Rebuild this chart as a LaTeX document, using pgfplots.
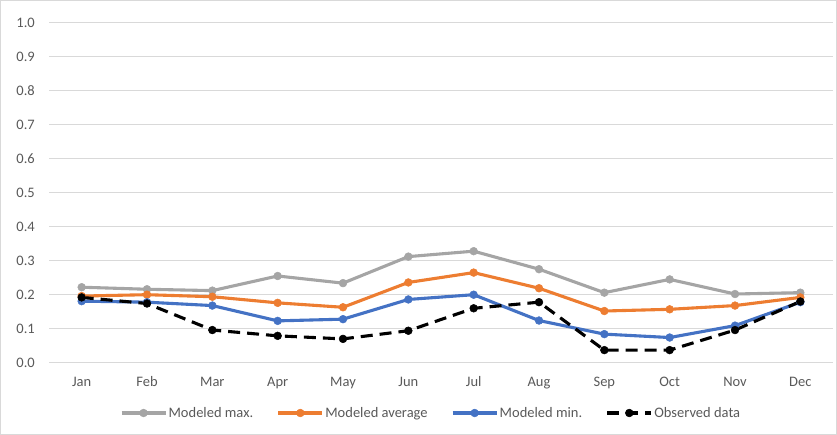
\documentclass[border=0pt]{standalone}
\usepackage{pgfplots}
\pgfplotsset{compat=1.18}
\usepackage{fontspec}
\setmainfont{Carlito}
\definecolor{cmax}{HTML}{A5A5A5}
\definecolor{cavg}{HTML}{ED7D31}
\definecolor{cmin}{HTML}{4472C4}
\definecolor{ctext}{HTML}{595959}
\definecolor{cgrid}{HTML}{D9D9D9}
\begin{document}
\begin{tikzpicture}
\useasboundingbox (0,0) rectangle (837pt,435pt);
\draw[cgrid, line width=0.8pt] (0.5pt,0.5pt) rectangle (836.5pt,434.5pt);
\begin{axis}[
  at={(49pt,72.3pt)}, anchor=south west,
  scale only axis, width=784pt, height=340pt,
  xmin=-0.5, xmax=11.5, ymin=0, ymax=1.0,
  xtick={0,...,11},
  xticklabels={Jan,Feb,Mar,Apr,May,Jun,Jul,Aug,Sep,Oct,Nov,Dec},
  ytick={0,0.1,...,1.0},
  /pgf/number format/fixed, /pgf/number format/fixed zerofill,
  /pgf/number format/precision=1, /pgf/number format/assume math mode=true,
  axis line style={draw=none},
  major tick length=0pt,
  ymajorgrids, grid style={cgrid, line width=0.8pt},
  tick label style={font=\fontsize{14.5}{16}\selectfont, text=ctext},
  xticklabel style={anchor=base, yshift=-23.5pt},
  yticklabel style={anchor=east, inner sep=0pt, xshift=-14pt},
  legend columns=4,
  legend style={at={(0.487,-0.148)}, anchor=center, draw=none, fill=none,
    font=\fontsize{14.5}{16}\selectfont, text=ctext,
    nodes={inner sep=1.5pt},
    /tikz/every even column/.append style={column sep=22pt}},
  legend image code/.code={\draw[#1] (0pt,0pt) -- (44pt,0pt); \draw[#1, solid] plot coordinates {(22pt,0pt)};},
  every axis plot/.append style={line width=3.1pt, mark=*, mark size=3.9pt},
]
\addplot[cmax, mark options={fill=cmax, draw=cmax, line width=0.5pt}] coordinates {
(0,0.222) (1,0.216) (2,0.212) (3,0.255) (4,0.234) (5,0.312) (6,0.328) (7,0.275) (8,0.206) (9,0.245) (10,0.202) (11,0.206)};
\addlegendentry{Modeled max.}
\addplot[cavg, mark options={fill=cavg, draw=cavg, line width=0.5pt}] coordinates {
(0,0.196) (1,0.200) (2,0.194) (3,0.176) (4,0.163) (5,0.236) (6,0.265) (7,0.219) (8,0.152) (9,0.157) (10,0.168) (11,0.192)};
\addlegendentry{Modeled average}
\addplot[cmin, mark options={fill=cmin, draw=cmin, line width=0.5pt}] coordinates {
(0,0.181) (1,0.178) (2,0.168) (3,0.123) (4,0.128) (5,0.186) (6,0.200) (7,0.124) (8,0.084) (9,0.074) (10,0.109) (11,0.178)};
\addlegendentry{Modeled min.}
\addplot[black, dash pattern=on 12pt off 7pt, mark options={fill=black, draw=black, solid, line width=0.5pt}] coordinates {
(0,0.192) (1,0.174) (2,0.096) (3,0.079) (4,0.070) (5,0.094) (6,0.160) (7,0.178) (8,0.037) (9,0.037) (10,0.096) (11,0.180)};
\addlegendentry{Observed data}
\end{axis}
\end{tikzpicture}
\end{document}
